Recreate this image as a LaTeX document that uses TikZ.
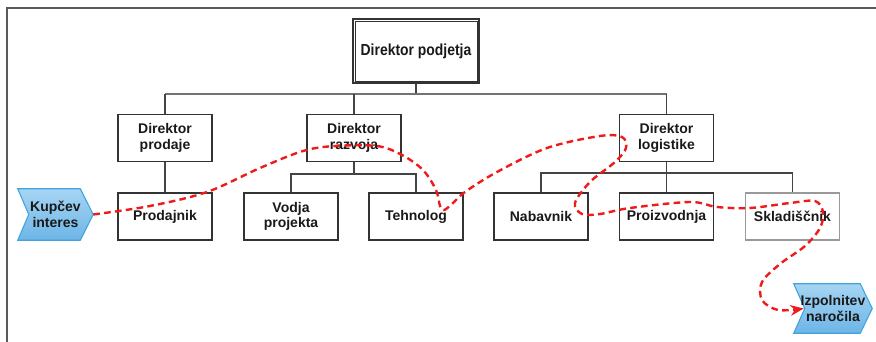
\documentclass[tikz,border=0pt]{standalone}
\usepackage{fontspec}
\setmainfont{Liberation Sans}
\usetikzlibrary{arrows.meta}
\pgfdeclarelayer{bg}
\pgfsetlayers{bg,main}
\definecolor{boxc}{HTML}{333333}
\definecolor{linec}{HTML}{444444}
\definecolor{framec}{HTML}{5A5A5A}
\definecolor{chevline}{HTML}{3FA4DD}
\definecolor{chevtop}{HTML}{A6D5F3}
\definecolor{chevbot}{HTML}{6DB5E6}
\definecolor{flowc}{HTML}{F01A1A}
\newcommand\lbl{\fontsize{10.5}{11.5}\selectfont\bfseries}
\tikzset{
  x=0.75pt, y=-0.75pt,
  orgbox/.style={draw=boxc, line width=1.1pt, fill=white, minimum width=70.5pt,
    minimum height=35.25pt, inner sep=0pt, align=center, font=\lbl, text=black!90},
  lightbox/.style={orgbox, draw=black!40, line width=0.8pt},
  tree/.style={draw=linec, line width=1.1pt},
  bar/.style={draw=black!55, line width=1.5pt},
  chevtext/.style={inner sep=0pt, align=center, font=\lbl, text=black!90},
  chev/.style={draw=chevline, line width=0.8pt, top color=chevtop, bottom color=chevbot},
  flow/.style={draw=flowc, line width=1.8pt, dash pattern=on 5pt off 3.2pt,
    -{Stealth[length=10pt,width=8pt]}},
}
\begin{document}
\begin{tikzpicture}
\useasboundingbox (0,0) rectangle (876,342);

% frame edges
\draw[framec, line width=1.5pt] (7,342) -- (7,8) -- (876,8);

% top box with double border
\node[orgbox, line width=1.8pt, minimum width=94.5pt, minimum height=48pt,
      font=\fontsize{12}{13}\selectfont\bfseries] (ceo) at (416,51)
      {\scalebox{0.87}[1]{Direktor podjetja}};
\draw[boxc, line width=0.7pt] ([shift={(2.4pt,-2.4pt)}]ceo.north west)
      rectangle ([shift={(-2.4pt,2.4pt)}]ceo.south east);

% second level
\node[orgbox] (dp) at (165,138) {Direktor\\prodaje};
\node[orgbox] (dr) at (354,138) {Direktor\\razvoja};
\node[orgbox] (dl) at (666.5,138) {Direktor\\logistike};

% third level
\node[orgbox] (pro) at (165,216.5) {Prodajnik};
\node[orgbox] (vp) at (291,216.5) {Vodja\\projekta};
\node[orgbox] (teh) at (416,216.5) {Tehnolog};
\node[orgbox] (nab) at (541,216.5) {Nabavnik};
\node[orgbox] (pri) at (666.5,216.5) {Proizvodnja};
\node[lightbox] (skl) at (792.5,216.5) {Skladiščnik};

% tree connectors
\coordinate (jt) at (416,94);
\draw[tree] (ceo.south) -- (jt);
\draw[bar] (165,94) -- (667,94);
\draw[tree] (dp.north) -- (dp.north |- jt);
\draw[tree] (dr.north) -- (dr.north |- jt);
\draw[tree] (dl.north) -- (dl.north |- jt);
\draw[tree] (dp.south) -- (pro.north);

\coordinate (jr) at (354,174);
\draw[tree] (dr.south) -- (jr);
\draw[tree] (vp.north) -- (vp.north |- jr) -- (teh.north |- jr) -- (teh.north);

\coordinate (jl) at (666.5,173);
\draw[tree] (dl.south) -- (pri.north);
\draw[tree] (nab.north) -- (nab.north |- jl) -- (skl.north |- jl) -- (skl.north);

% process chevrons
\node[chevtext, minimum width=56.25pt, minimum height=38.25pt] (kup) at (55.5,214.5) {Kupčev\\interes};
\node[chevtext, minimum width=58.5pt, minimum height=36.75pt] (izp) at (833,308.5) {Izpolnitev\\naročila};
\begin{pgfonlayer}{bg}
\path[chev] (kup.north west) -- ([xshift=-9.75pt]kup.north east) -- (kup.east)
  -- ([xshift=-9.75pt]kup.south east) -- (kup.south west) -- ([xshift=8.25pt]kup.west) -- cycle;
\path[chev] (izp.north west) -- ([xshift=-9pt]izp.north east) -- (izp.east)
  -- ([xshift=-9pt]izp.south east) -- (izp.south west) -- ([xshift=8.25pt]izp.west) -- cycle;
\end{pgfonlayer}
\coordinate (izpin) at ([xshift=7.5pt]izp.west);

% order flow
\draw[flow] plot[smooth, tension=0.55] coordinates {
  (kup.east) (150,206) (207,192) (260,168) (303,151) (335,146) (377,146)
  (402,155) (423,170) (436,190) (440,206) (444,210) (452,204) (465,192)
  (497,172) (547,148) (600,136) (622,137) (626,148) (615,162) (590,182)
  (575,203) (582,214) (600,214) (630,208) (690,202) (717,207) (750,208)
  (790,203) (815,201) (823,212) (820,228) (805,246) (780,264) (762,282)
  (762,300) (778,310) (izpin)};
\end{tikzpicture}
\end{document}
